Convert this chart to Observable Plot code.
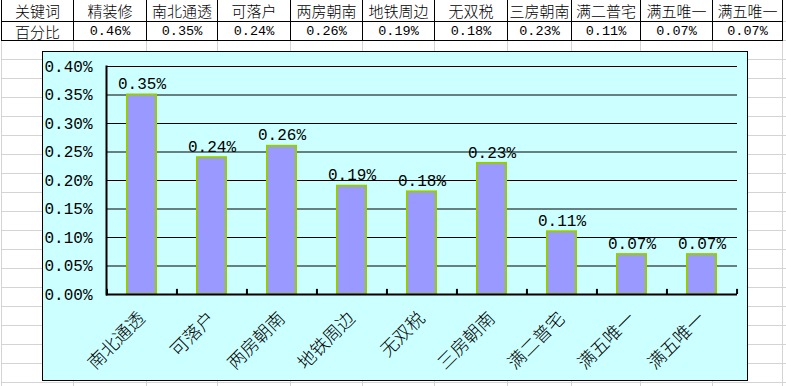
<!DOCTYPE html>
<html>
<head>
<meta charset="utf-8">
<script src="https://cdn.jsdelivr.net/npm/d3@7"></script>
<script src="https://cdn.jsdelivr.net/npm/@observablehq/plot@0.6"></script>
<style>
  html, body { margin: 0; padding: 0; background: #fff; width: 786px; height: 386px; overflow: hidden; }
  #grid { position: absolute; left: 1px; top: 0px; border-collapse: collapse; table-layout: fixed; }
  #grid td { height: 18px; padding: 0; border: 1px solid #d4d4d4; text-align: center; white-space: nowrap; line-height: 18px; }
  #grid tr.hdr td { border: 1px solid #000; color: #000; }
  #grid tr.hdr1 td { border-top: none; height: 21px; line-height: 21px; }
  #grid tr.hdr2 span { position: relative; top: 1px; }
  .cjk { font-family: "Noto Sans CJK SC", sans-serif; font-size: 15px; font-weight: 300; }
  .num { font-family: "Liberation Mono", monospace; font-size: 13.5px; }
  #chartbox { position: absolute; left: 42px; top: 51px; width: 704px; height: 328px; border: 1px solid #000; background: #CCFFFF; }
  #chartbox svg { display: block; overflow: visible; }
</style>
</head>
<body>
<table id="grid"></table>
<div id="chartbox"></div>
<script>
// ---- data ----
const tableHeader = "关键词";
const tableRowLabel = "百分比";
const tableKeywords = ["精装修", "南北通透", "可落户", "两房朝南", "地铁周边", "无双税", "三房朝南", "满二普宅", "满五唯一", "满五唯一"];
const tablePercents = [0.46, 0.35, 0.24, 0.26, 0.19, 0.18, 0.23, 0.11, 0.07, 0.07];
const chartCategories = ["南北通透", "可落户", "两房朝南", "地铁周边", "无双税", "三房朝南", "满二普宅", "满五唯一", "满五唯一"];
const chartValues = [0.35, 0.24, 0.26, 0.19, 0.18, 0.23, 0.11, 0.07, 0.07];
const yTicks = [0, 0.05, 0.10, 0.15, 0.20, 0.25, 0.30, 0.35, 0.40];

const fmt = v => v.toFixed(2) + "%";

// ---- spreadsheet grid + header table ----
const colWidths = [72, 73, 71, 73, 72, 72, 73, 64, 69, 72, 70, 20];
const grid = document.getElementById("grid");
const cg = document.createElement("colgroup");
colWidths.forEach(w => { const c = document.createElement("col"); c.style.width = w + "px"; cg.appendChild(c); });
grid.appendChild(cg);
grid.style.width = colWidths.reduce((a, b) => a + b, 0) + "px";
const nRows = 21;
for (let r = 0; r < nRows; r++) {
  const tr = document.createElement("tr");
  if (r < 2) tr.className = "hdr " + (r === 0 ? "hdr1" : "hdr2");
  colWidths.forEach((w, c) => {
    const td = document.createElement("td");
    const span = document.createElement("span");
    if (r === 0 && c <= tableKeywords.length) {
      td.className = "cjk";
      span.textContent = c === 0 ? tableHeader : tableKeywords[c - 1];
    } else if (r === 1 && c <= tableKeywords.length) {
      if (c === 0) { td.className = "cjk"; span.textContent = tableRowLabel; }
      else { td.className = "num"; span.textContent = fmt(tablePercents[c - 1]); }
    }
    if (span.textContent) td.appendChild(span);
    if (r < 2 && c === colWidths.length - 1) { td.style.border = "none"; td.style.borderBottom = "1px solid #d4d4d4"; }
    tr.appendChild(td);
  });
  grid.appendChild(tr);
}

// ---- chart ----
const data = chartCategories.map((c, i) => ({i, c, v: chartValues[i]}));
const W = 704, H = 328, ml = 63, mr = 10, mt = 14, mb = 86;
const step = (W - ml - mr) / data.length;

const chart = Plot.plot({
  width: W, height: H,
  marginLeft: ml, marginRight: mr, marginTop: mt, marginBottom: mb,
  style: {background: "transparent", fontFamily: "'Liberation Mono', monospace", fontSize: "16px", color: "#000", overflow: "visible"},
  x: {domain: d3.range(data.length), paddingInner: 0.59, paddingOuter: 0.295},
  y: {domain: [0, 0.40]},
  marks: [
    Plot.ruleY(yTicks.filter(t => t > 0), {stroke: "#000", strokeWidth: 1}),
    Plot.barY(data, {x: "i", y: "v", fill: "#9999FF", stroke: "#99CC00", strokeWidth: 2}),
    Plot.ruleX(data, {x: "i", dx: -step / 2, y1: 0, y2: 0.009, stroke: "#000", strokeWidth: 2}),
    Plot.ruleX([data.length - 1], {x: d => d, dx: step / 2, y1: 0, y2: 0.009, stroke: "#000", strokeWidth: 2}),
    Plot.ruleY([0], {stroke: "#000", strokeWidth: 2}),
    Plot.frame({anchor: "left", stroke: "#000", strokeWidth: 2}),
    Plot.text(data, {x: "i", y: "v", text: d => fmt(d.v), dy: -11, fontSize: 16, fill: "#000"}),
    Plot.axisY({ticks: yTicks, tickFormat: fmt, tickSize: 0, tickPadding: 14, fontSize: 16, label: null}),
    Plot.axisX({tickFormat: i => chartCategories[i], tickRotate: -45, tickSize: 0, tickPadding: 21, fontSize: 18, fontWeight: 300, fontFamily: "'Noto Sans CJK SC', sans-serif", label: null})
  ]
});
document.getElementById("chartbox").appendChild(chart);
</script>
</body>
</html>
